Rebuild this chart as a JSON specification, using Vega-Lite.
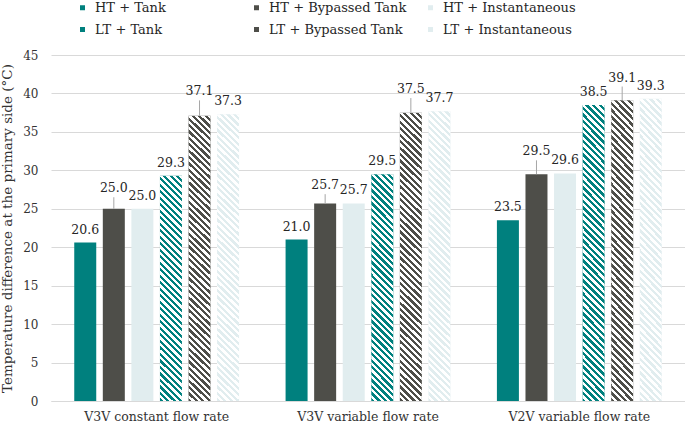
{
  "$schema": "https://vega.github.io/schema/vega-lite/v6.json",
  "width": 634,
  "height": 346,
  "autosize": {"type": "none"},
  "padding": {"left": 51, "top": 55, "right": 0, "bottom": 25},
  "background": "#ffffff",
  "config": {
    "font": "DejaVu Serif",
    "view": {"stroke": null},
    "axis": {"labelColor": "#333333", "titleColor": "#333333", "labelFont": "DejaVu Serif", "titleFont": "DejaVu Serif"}
  },
  "data": {
    "values": [
      {"group": "V3V constant flow rate", "series": "HT + Tank", "value": 20.6},
      {"group": "V3V constant flow rate", "series": "HT + Bypassed Tank", "value": 25.0, "hi": 26.5},
      {"group": "V3V constant flow rate", "series": "HT + Instantaneous", "value": 25.0},
      {"group": "V3V constant flow rate", "series": "LT + Tank", "value": 29.3},
      {"group": "V3V constant flow rate", "series": "LT + Bypassed Tank", "value": 37.1, "hi": 39.1},
      {"group": "V3V constant flow rate", "series": "LT + Instantaneous", "value": 37.3},
      {"group": "V3V variable flow rate", "series": "HT + Tank", "value": 21.0},
      {"group": "V3V variable flow rate", "series": "HT + Bypassed Tank", "value": 25.7, "hi": 26.9},
      {"group": "V3V variable flow rate", "series": "HT + Instantaneous", "value": 25.7},
      {"group": "V3V variable flow rate", "series": "LT + Tank", "value": 29.5},
      {"group": "V3V variable flow rate", "series": "LT + Bypassed Tank", "value": 37.5, "hi": 39.4},
      {"group": "V3V variable flow rate", "series": "LT + Instantaneous", "value": 37.7},
      {"group": "V2V variable flow rate", "series": "HT + Tank", "value": 23.5},
      {"group": "V2V variable flow rate", "series": "HT + Bypassed Tank", "value": 29.5, "hi": 31.3},
      {"group": "V2V variable flow rate", "series": "HT + Instantaneous", "value": 29.6},
      {"group": "V2V variable flow rate", "series": "LT + Tank", "value": 38.5},
      {"group": "V2V variable flow rate", "series": "LT + Bypassed Tank", "value": 39.1, "hi": 40.9},
      {"group": "V2V variable flow rate", "series": "LT + Instantaneous", "value": 39.3}
    ]
  },
  "encoding": {
    "x": {
      "field": "group", "type": "nominal",
      "scale": {"domain": ["V3V constant flow rate", "V3V variable flow rate", "V2V variable flow rate"], "paddingInner": 0.22, "paddingOuter": 0.11},
      "axis": {"title": null, "labelAngle": 0, "labelFontSize": 12.5, "labelPadding": 9, "ticks": false, "domain": true, "domainColor": "#d9d9d9", "grid": false}
    },
    "xOffset": {
      "field": "series", "type": "nominal",
      "scale": {"domain": ["HT + Tank", "HT + Bypassed Tank", "HT + Instantaneous", "LT + Tank", "LT + Bypassed Tank", "LT + Instantaneous"], "paddingInner": 0.23, "paddingOuter": 0}
    },
    "y": {
      "field": "value", "type": "quantitative",
      "scale": {"domain": [0, 45], "nice": false},
      "title": "Temperature difference at the primary side (°C)",
      "axis": {"tickCount": 9, "labelOverlap": false, "grid": true, "gridColor": "#d9d9d9", "domain": false, "ticks": false, "labelFontSize": 12, "labelPadding": 13, "titleFontSize": 13.5, "titleFontWeight": "normal", "titlePadding": 8}
    }
  },
  "layer": [
    {
      "mark": {"type": "bar"},
      "encoding": {
        "color": {
          "field": "series", "type": "nominal",
          "scale": {
            "domain": ["HT + Tank", "HT + Bypassed Tank", "HT + Instantaneous", "LT + Tank", "LT + Bypassed Tank", "LT + Instantaneous"],
            "range": ["#00807e", "#4e4e49", "#e1edef", "#00807e", "#4e4e49", "#e1edef"]
          },
          "legend": {
            "title": null, "orient": "none", "legendX": 25, "legendY": -54,
            "direction": "horizontal", "columns": 3, "gridAlign": "all",
            "columnPadding": 17, "rowPadding": 8, "padding": 0,
            "symbolType": "square", "symbolSize": 25, "symbolStrokeWidth": 0,
            "labelFontSize": 13, "labelOffset": 6, "labelColor": "#262626", "labelFont": "DejaVu Serif",
            "encode": {
              "symbols": {
                "update": {
                  "fill": [
                    {"test": "datum.value === 'LT + Tank'", "value": {"gradient": "linear", "x1": 0, "y1": 1, "x2": 1, "y2": 0, "stops": [{"offset": 0, "color": "#00807e"}, {"offset": 0.35, "color": "#00807e"}, {"offset": 0.35, "color": "#ffffff"}, {"offset": 0.65, "color": "#ffffff"}, {"offset": 0.65, "color": "#00807e"}, {"offset": 1, "color": "#00807e"}]}},
                    {"test": "datum.value === 'LT + Bypassed Tank'", "value": {"gradient": "linear", "x1": 0, "y1": 1, "x2": 1, "y2": 0, "stops": [{"offset": 0, "color": "#4e4e49"}, {"offset": 0.35, "color": "#4e4e49"}, {"offset": 0.35, "color": "#ffffff"}, {"offset": 0.65, "color": "#ffffff"}, {"offset": 0.65, "color": "#4e4e49"}, {"offset": 1, "color": "#4e4e49"}]}},
                    {"test": "datum.value === 'LT + Instantaneous'", "value": {"gradient": "linear", "x1": 0, "y1": 1, "x2": 1, "y2": 0, "stops": [{"offset": 0, "color": "#e1edef"}, {"offset": 0.35, "color": "#e1edef"}, {"offset": 0.35, "color": "#ffffff"}, {"offset": 0.65, "color": "#ffffff"}, {"offset": 0.65, "color": "#e1edef"}, {"offset": 1, "color": "#e1edef"}]}},
                    {"scale": "color", "field": "value"}
                  ]
                }
              }
            }
          }
        }
      }
    },
    {
      "transform": [{"filter": "datum.series === 'LT + Tank' && datum.group !== 'V2V variable flow rate'"}],
      "mark": {"type": "bar", "fill": {"gradient": "linear", "x1": 0, "y1": 1, "x2": 0.1058, "y2": -0.087, "stops": [
        {"offset": 0, "color": "rgba(255,255,255,0)"}, {"offset": 0.01316, "color": "rgba(255,255,255,0)"}, {"offset": 0.01316, "color": "#fff"}, {"offset": 0.02632, "color": "#fff"},
        {"offset": 0.02632, "color": "rgba(255,255,255,0)"}, {"offset": 0.03947, "color": "rgba(255,255,255,0)"}, {"offset": 0.03947, "color": "#fff"}, {"offset": 0.05263, "color": "#fff"},
        {"offset": 0.05263, "color": "rgba(255,255,255,0)"}, {"offset": 0.06579, "color": "rgba(255,255,255,0)"}, {"offset": 0.06579, "color": "#fff"}, {"offset": 0.07895, "color": "#fff"},
        {"offset": 0.07895, "color": "rgba(255,255,255,0)"}, {"offset": 0.09211, "color": "rgba(255,255,255,0)"}, {"offset": 0.09211, "color": "#fff"}, {"offset": 0.10526, "color": "#fff"},
        {"offset": 0.10526, "color": "rgba(255,255,255,0)"}, {"offset": 0.11842, "color": "rgba(255,255,255,0)"}, {"offset": 0.11842, "color": "#fff"}, {"offset": 0.13158, "color": "#fff"},
        {"offset": 0.13158, "color": "rgba(255,255,255,0)"}, {"offset": 0.14474, "color": "rgba(255,255,255,0)"}, {"offset": 0.14474, "color": "#fff"}, {"offset": 0.15789, "color": "#fff"},
        {"offset": 0.15789, "color": "rgba(255,255,255,0)"}, {"offset": 0.17105, "color": "rgba(255,255,255,0)"}, {"offset": 0.17105, "color": "#fff"}, {"offset": 0.18421, "color": "#fff"},
        {"offset": 0.18421, "color": "rgba(255,255,255,0)"}, {"offset": 0.19737, "color": "rgba(255,255,255,0)"}, {"offset": 0.19737, "color": "#fff"}, {"offset": 0.21053, "color": "#fff"},
        {"offset": 0.21053, "color": "rgba(255,255,255,0)"}, {"offset": 0.22368, "color": "rgba(255,255,255,0)"}, {"offset": 0.22368, "color": "#fff"}, {"offset": 0.23684, "color": "#fff"},
        {"offset": 0.23684, "color": "rgba(255,255,255,0)"}, {"offset": 0.25, "color": "rgba(255,255,255,0)"}, {"offset": 0.25, "color": "#fff"}, {"offset": 0.26316, "color": "#fff"},
        {"offset": 0.26316, "color": "rgba(255,255,255,0)"}, {"offset": 0.27632, "color": "rgba(255,255,255,0)"}, {"offset": 0.27632, "color": "#fff"}, {"offset": 0.28947, "color": "#fff"},
        {"offset": 0.28947, "color": "rgba(255,255,255,0)"}, {"offset": 0.30263, "color": "rgba(255,255,255,0)"}, {"offset": 0.30263, "color": "#fff"}, {"offset": 0.31579, "color": "#fff"},
        {"offset": 0.31579, "color": "rgba(255,255,255,0)"}, {"offset": 0.32895, "color": "rgba(255,255,255,0)"}, {"offset": 0.32895, "color": "#fff"}, {"offset": 0.34211, "color": "#fff"},
        {"offset": 0.34211, "color": "rgba(255,255,255,0)"}, {"offset": 0.35526, "color": "rgba(255,255,255,0)"}, {"offset": 0.35526, "color": "#fff"}, {"offset": 0.36842, "color": "#fff"},
        {"offset": 0.36842, "color": "rgba(255,255,255,0)"}, {"offset": 0.38158, "color": "rgba(255,255,255,0)"}, {"offset": 0.38158, "color": "#fff"}, {"offset": 0.39474, "color": "#fff"},
        {"offset": 0.39474, "color": "rgba(255,255,255,0)"}, {"offset": 0.40789, "color": "rgba(255,255,255,0)"}, {"offset": 0.40789, "color": "#fff"}, {"offset": 0.42105, "color": "#fff"},
        {"offset": 0.42105, "color": "rgba(255,255,255,0)"}, {"offset": 0.43421, "color": "rgba(255,255,255,0)"}, {"offset": 0.43421, "color": "#fff"}, {"offset": 0.44737, "color": "#fff"},
        {"offset": 0.44737, "color": "rgba(255,255,255,0)"}, {"offset": 0.46053, "color": "rgba(255,255,255,0)"}, {"offset": 0.46053, "color": "#fff"}, {"offset": 0.47368, "color": "#fff"},
        {"offset": 0.47368, "color": "rgba(255,255,255,0)"}, {"offset": 0.48684, "color": "rgba(255,255,255,0)"}, {"offset": 0.48684, "color": "#fff"}, {"offset": 0.5, "color": "#fff"},
        {"offset": 0.5, "color": "rgba(255,255,255,0)"}, {"offset": 0.51316, "color": "rgba(255,255,255,0)"}, {"offset": 0.51316, "color": "#fff"}, {"offset": 0.52632, "color": "#fff"},
        {"offset": 0.52632, "color": "rgba(255,255,255,0)"}, {"offset": 0.53947, "color": "rgba(255,255,255,0)"}, {"offset": 0.53947, "color": "#fff"}, {"offset": 0.55263, "color": "#fff"},
        {"offset": 0.55263, "color": "rgba(255,255,255,0)"}, {"offset": 0.56579, "color": "rgba(255,255,255,0)"}, {"offset": 0.56579, "color": "#fff"}, {"offset": 0.57895, "color": "#fff"},
        {"offset": 0.57895, "color": "rgba(255,255,255,0)"}, {"offset": 0.59211, "color": "rgba(255,255,255,0)"}, {"offset": 0.59211, "color": "#fff"}, {"offset": 0.60526, "color": "#fff"},
        {"offset": 0.60526, "color": "rgba(255,255,255,0)"}, {"offset": 0.61842, "color": "rgba(255,255,255,0)"}, {"offset": 0.61842, "color": "#fff"}, {"offset": 0.63158, "color": "#fff"},
        {"offset": 0.63158, "color": "rgba(255,255,255,0)"}, {"offset": 0.64474, "color": "rgba(255,255,255,0)"}, {"offset": 0.64474, "color": "#fff"}, {"offset": 0.65789, "color": "#fff"},
        {"offset": 0.65789, "color": "rgba(255,255,255,0)"}, {"offset": 0.67105, "color": "rgba(255,255,255,0)"}, {"offset": 0.67105, "color": "#fff"}, {"offset": 0.68421, "color": "#fff"},
        {"offset": 0.68421, "color": "rgba(255,255,255,0)"}, {"offset": 0.69737, "color": "rgba(255,255,255,0)"}, {"offset": 0.69737, "color": "#fff"}, {"offset": 0.71053, "color": "#fff"},
        {"offset": 0.71053, "color": "rgba(255,255,255,0)"}, {"offset": 0.72368, "color": "rgba(255,255,255,0)"}, {"offset": 0.72368, "color": "#fff"}, {"offset": 0.73684, "color": "#fff"},
        {"offset": 0.73684, "color": "rgba(255,255,255,0)"}, {"offset": 0.75, "color": "rgba(255,255,255,0)"}, {"offset": 0.75, "color": "#fff"}, {"offset": 0.76316, "color": "#fff"},
        {"offset": 0.76316, "color": "rgba(255,255,255,0)"}, {"offset": 0.77632, "color": "rgba(255,255,255,0)"}, {"offset": 0.77632, "color": "#fff"}, {"offset": 0.78947, "color": "#fff"},
        {"offset": 0.78947, "color": "rgba(255,255,255,0)"}, {"offset": 0.80263, "color": "rgba(255,255,255,0)"}, {"offset": 0.80263, "color": "#fff"}, {"offset": 0.81579, "color": "#fff"},
        {"offset": 0.81579, "color": "rgba(255,255,255,0)"}, {"offset": 0.82895, "color": "rgba(255,255,255,0)"}, {"offset": 0.82895, "color": "#fff"}, {"offset": 0.84211, "color": "#fff"},
        {"offset": 0.84211, "color": "rgba(255,255,255,0)"}, {"offset": 0.85526, "color": "rgba(255,255,255,0)"}, {"offset": 0.85526, "color": "#fff"}, {"offset": 0.86842, "color": "#fff"},
        {"offset": 0.86842, "color": "rgba(255,255,255,0)"}, {"offset": 0.88158, "color": "rgba(255,255,255,0)"}, {"offset": 0.88158, "color": "#fff"}, {"offset": 0.89474, "color": "#fff"},
        {"offset": 0.89474, "color": "rgba(255,255,255,0)"}, {"offset": 0.90789, "color": "rgba(255,255,255,0)"}, {"offset": 0.90789, "color": "#fff"}, {"offset": 0.92105, "color": "#fff"},
        {"offset": 0.92105, "color": "rgba(255,255,255,0)"}, {"offset": 0.93421, "color": "rgba(255,255,255,0)"}, {"offset": 0.93421, "color": "#fff"}, {"offset": 0.94737, "color": "#fff"},
        {"offset": 0.94737, "color": "rgba(255,255,255,0)"}, {"offset": 0.96053, "color": "rgba(255,255,255,0)"}, {"offset": 0.96053, "color": "#fff"}, {"offset": 0.97368, "color": "#fff"},
        {"offset": 0.97368, "color": "rgba(255,255,255,0)"}, {"offset": 0.98684, "color": "rgba(255,255,255,0)"}, {"offset": 0.98684, "color": "#fff"}, {"offset": 1, "color": "#fff"}
      ]}}
    },
    {
      "transform": [{"filter": "indexof(datum.series, 'LT') === 0 && !(datum.series === 'LT + Tank' && datum.group !== 'V2V variable flow rate')"}],
      "mark": {"type": "bar", "fill": {"gradient": "linear", "x1": 0, "y1": 1, "x2": 0.08036, "y2": -0.0691, "stops": [
        {"offset": 0, "color": "rgba(255,255,255,0)"}, {"offset": 0.01042, "color": "rgba(255,255,255,0)"}, {"offset": 0.01042, "color": "#fff"}, {"offset": 0.02083, "color": "#fff"},
        {"offset": 0.02083, "color": "rgba(255,255,255,0)"}, {"offset": 0.03125, "color": "rgba(255,255,255,0)"}, {"offset": 0.03125, "color": "#fff"}, {"offset": 0.04167, "color": "#fff"},
        {"offset": 0.04167, "color": "rgba(255,255,255,0)"}, {"offset": 0.05208, "color": "rgba(255,255,255,0)"}, {"offset": 0.05208, "color": "#fff"}, {"offset": 0.0625, "color": "#fff"},
        {"offset": 0.0625, "color": "rgba(255,255,255,0)"}, {"offset": 0.07292, "color": "rgba(255,255,255,0)"}, {"offset": 0.07292, "color": "#fff"}, {"offset": 0.08333, "color": "#fff"},
        {"offset": 0.08333, "color": "rgba(255,255,255,0)"}, {"offset": 0.09375, "color": "rgba(255,255,255,0)"}, {"offset": 0.09375, "color": "#fff"}, {"offset": 0.10417, "color": "#fff"},
        {"offset": 0.10417, "color": "rgba(255,255,255,0)"}, {"offset": 0.11458, "color": "rgba(255,255,255,0)"}, {"offset": 0.11458, "color": "#fff"}, {"offset": 0.125, "color": "#fff"},
        {"offset": 0.125, "color": "rgba(255,255,255,0)"}, {"offset": 0.13542, "color": "rgba(255,255,255,0)"}, {"offset": 0.13542, "color": "#fff"}, {"offset": 0.14583, "color": "#fff"},
        {"offset": 0.14583, "color": "rgba(255,255,255,0)"}, {"offset": 0.15625, "color": "rgba(255,255,255,0)"}, {"offset": 0.15625, "color": "#fff"}, {"offset": 0.16667, "color": "#fff"},
        {"offset": 0.16667, "color": "rgba(255,255,255,0)"}, {"offset": 0.17708, "color": "rgba(255,255,255,0)"}, {"offset": 0.17708, "color": "#fff"}, {"offset": 0.1875, "color": "#fff"},
        {"offset": 0.1875, "color": "rgba(255,255,255,0)"}, {"offset": 0.19792, "color": "rgba(255,255,255,0)"}, {"offset": 0.19792, "color": "#fff"}, {"offset": 0.20833, "color": "#fff"},
        {"offset": 0.20833, "color": "rgba(255,255,255,0)"}, {"offset": 0.21875, "color": "rgba(255,255,255,0)"}, {"offset": 0.21875, "color": "#fff"}, {"offset": 0.22917, "color": "#fff"},
        {"offset": 0.22917, "color": "rgba(255,255,255,0)"}, {"offset": 0.23958, "color": "rgba(255,255,255,0)"}, {"offset": 0.23958, "color": "#fff"}, {"offset": 0.25, "color": "#fff"},
        {"offset": 0.25, "color": "rgba(255,255,255,0)"}, {"offset": 0.26042, "color": "rgba(255,255,255,0)"}, {"offset": 0.26042, "color": "#fff"}, {"offset": 0.27083, "color": "#fff"},
        {"offset": 0.27083, "color": "rgba(255,255,255,0)"}, {"offset": 0.28125, "color": "rgba(255,255,255,0)"}, {"offset": 0.28125, "color": "#fff"}, {"offset": 0.29167, "color": "#fff"},
        {"offset": 0.29167, "color": "rgba(255,255,255,0)"}, {"offset": 0.30208, "color": "rgba(255,255,255,0)"}, {"offset": 0.30208, "color": "#fff"}, {"offset": 0.3125, "color": "#fff"},
        {"offset": 0.3125, "color": "rgba(255,255,255,0)"}, {"offset": 0.32292, "color": "rgba(255,255,255,0)"}, {"offset": 0.32292, "color": "#fff"}, {"offset": 0.33333, "color": "#fff"},
        {"offset": 0.33333, "color": "rgba(255,255,255,0)"}, {"offset": 0.34375, "color": "rgba(255,255,255,0)"}, {"offset": 0.34375, "color": "#fff"}, {"offset": 0.35417, "color": "#fff"},
        {"offset": 0.35417, "color": "rgba(255,255,255,0)"}, {"offset": 0.36458, "color": "rgba(255,255,255,0)"}, {"offset": 0.36458, "color": "#fff"}, {"offset": 0.375, "color": "#fff"},
        {"offset": 0.375, "color": "rgba(255,255,255,0)"}, {"offset": 0.38542, "color": "rgba(255,255,255,0)"}, {"offset": 0.38542, "color": "#fff"}, {"offset": 0.39583, "color": "#fff"},
        {"offset": 0.39583, "color": "rgba(255,255,255,0)"}, {"offset": 0.40625, "color": "rgba(255,255,255,0)"}, {"offset": 0.40625, "color": "#fff"}, {"offset": 0.41667, "color": "#fff"},
        {"offset": 0.41667, "color": "rgba(255,255,255,0)"}, {"offset": 0.42708, "color": "rgba(255,255,255,0)"}, {"offset": 0.42708, "color": "#fff"}, {"offset": 0.4375, "color": "#fff"},
        {"offset": 0.4375, "color": "rgba(255,255,255,0)"}, {"offset": 0.44792, "color": "rgba(255,255,255,0)"}, {"offset": 0.44792, "color": "#fff"}, {"offset": 0.45833, "color": "#fff"},
        {"offset": 0.45833, "color": "rgba(255,255,255,0)"}, {"offset": 0.46875, "color": "rgba(255,255,255,0)"}, {"offset": 0.46875, "color": "#fff"}, {"offset": 0.47917, "color": "#fff"},
        {"offset": 0.47917, "color": "rgba(255,255,255,0)"}, {"offset": 0.48958, "color": "rgba(255,255,255,0)"}, {"offset": 0.48958, "color": "#fff"}, {"offset": 0.5, "color": "#fff"},
        {"offset": 0.5, "color": "rgba(255,255,255,0)"}, {"offset": 0.51042, "color": "rgba(255,255,255,0)"}, {"offset": 0.51042, "color": "#fff"}, {"offset": 0.52083, "color": "#fff"},
        {"offset": 0.52083, "color": "rgba(255,255,255,0)"}, {"offset": 0.53125, "color": "rgba(255,255,255,0)"}, {"offset": 0.53125, "color": "#fff"}, {"offset": 0.54167, "color": "#fff"},
        {"offset": 0.54167, "color": "rgba(255,255,255,0)"}, {"offset": 0.55208, "color": "rgba(255,255,255,0)"}, {"offset": 0.55208, "color": "#fff"}, {"offset": 0.5625, "color": "#fff"},
        {"offset": 0.5625, "color": "rgba(255,255,255,0)"}, {"offset": 0.57292, "color": "rgba(255,255,255,0)"}, {"offset": 0.57292, "color": "#fff"}, {"offset": 0.58333, "color": "#fff"},
        {"offset": 0.58333, "color": "rgba(255,255,255,0)"}, {"offset": 0.59375, "color": "rgba(255,255,255,0)"}, {"offset": 0.59375, "color": "#fff"}, {"offset": 0.60417, "color": "#fff"},
        {"offset": 0.60417, "color": "rgba(255,255,255,0)"}, {"offset": 0.61458, "color": "rgba(255,255,255,0)"}, {"offset": 0.61458, "color": "#fff"}, {"offset": 0.625, "color": "#fff"},
        {"offset": 0.625, "color": "rgba(255,255,255,0)"}, {"offset": 0.63542, "color": "rgba(255,255,255,0)"}, {"offset": 0.63542, "color": "#fff"}, {"offset": 0.64583, "color": "#fff"},
        {"offset": 0.64583, "color": "rgba(255,255,255,0)"}, {"offset": 0.65625, "color": "rgba(255,255,255,0)"}, {"offset": 0.65625, "color": "#fff"}, {"offset": 0.66667, "color": "#fff"},
        {"offset": 0.66667, "color": "rgba(255,255,255,0)"}, {"offset": 0.67708, "color": "rgba(255,255,255,0)"}, {"offset": 0.67708, "color": "#fff"}, {"offset": 0.6875, "color": "#fff"},
        {"offset": 0.6875, "color": "rgba(255,255,255,0)"}, {"offset": 0.69792, "color": "rgba(255,255,255,0)"}, {"offset": 0.69792, "color": "#fff"}, {"offset": 0.70833, "color": "#fff"},
        {"offset": 0.70833, "color": "rgba(255,255,255,0)"}, {"offset": 0.71875, "color": "rgba(255,255,255,0)"}, {"offset": 0.71875, "color": "#fff"}, {"offset": 0.72917, "color": "#fff"},
        {"offset": 0.72917, "color": "rgba(255,255,255,0)"}, {"offset": 0.73958, "color": "rgba(255,255,255,0)"}, {"offset": 0.73958, "color": "#fff"}, {"offset": 0.75, "color": "#fff"},
        {"offset": 0.75, "color": "rgba(255,255,255,0)"}, {"offset": 0.76042, "color": "rgba(255,255,255,0)"}, {"offset": 0.76042, "color": "#fff"}, {"offset": 0.77083, "color": "#fff"},
        {"offset": 0.77083, "color": "rgba(255,255,255,0)"}, {"offset": 0.78125, "color": "rgba(255,255,255,0)"}, {"offset": 0.78125, "color": "#fff"}, {"offset": 0.79167, "color": "#fff"},
        {"offset": 0.79167, "color": "rgba(255,255,255,0)"}, {"offset": 0.80208, "color": "rgba(255,255,255,0)"}, {"offset": 0.80208, "color": "#fff"}, {"offset": 0.8125, "color": "#fff"},
        {"offset": 0.8125, "color": "rgba(255,255,255,0)"}, {"offset": 0.82292, "color": "rgba(255,255,255,0)"}, {"offset": 0.82292, "color": "#fff"}, {"offset": 0.83333, "color": "#fff"},
        {"offset": 0.83333, "color": "rgba(255,255,255,0)"}, {"offset": 0.84375, "color": "rgba(255,255,255,0)"}, {"offset": 0.84375, "color": "#fff"}, {"offset": 0.85417, "color": "#fff"},
        {"offset": 0.85417, "color": "rgba(255,255,255,0)"}, {"offset": 0.86458, "color": "rgba(255,255,255,0)"}, {"offset": 0.86458, "color": "#fff"}, {"offset": 0.875, "color": "#fff"},
        {"offset": 0.875, "color": "rgba(255,255,255,0)"}, {"offset": 0.88542, "color": "rgba(255,255,255,0)"}, {"offset": 0.88542, "color": "#fff"}, {"offset": 0.89583, "color": "#fff"},
        {"offset": 0.89583, "color": "rgba(255,255,255,0)"}, {"offset": 0.90625, "color": "rgba(255,255,255,0)"}, {"offset": 0.90625, "color": "#fff"}, {"offset": 0.91667, "color": "#fff"},
        {"offset": 0.91667, "color": "rgba(255,255,255,0)"}, {"offset": 0.92708, "color": "rgba(255,255,255,0)"}, {"offset": 0.92708, "color": "#fff"}, {"offset": 0.9375, "color": "#fff"},
        {"offset": 0.9375, "color": "rgba(255,255,255,0)"}, {"offset": 0.94792, "color": "rgba(255,255,255,0)"}, {"offset": 0.94792, "color": "#fff"}, {"offset": 0.95833, "color": "#fff"},
        {"offset": 0.95833, "color": "rgba(255,255,255,0)"}, {"offset": 0.96875, "color": "rgba(255,255,255,0)"}, {"offset": 0.96875, "color": "#fff"}, {"offset": 0.97917, "color": "#fff"},
        {"offset": 0.97917, "color": "rgba(255,255,255,0)"}, {"offset": 0.98958, "color": "rgba(255,255,255,0)"}, {"offset": 0.98958, "color": "#fff"}, {"offset": 1, "color": "#fff"}
      ]}}
    },
    {
      "transform": [{"filter": "isValid(datum.hi)"}],
      "mark": {"type": "rule", "color": "#a6a6a6", "strokeWidth": 1},
      "encoding": {
        "y2": {"field": "hi"}
      }
    },
    {
      "transform": [{"filter": "!isValid(datum.hi)"}],
      "mark": {"type": "text", "baseline": "alphabetic", "dy": -9, "fontSize": 12.5, "color": "#262626", "font": "DejaVu Serif"},
      "encoding": {
        "text": {"field": "value", "type": "quantitative", "format": ".1f"}
      }
    },
    {
      "transform": [{"filter": "isValid(datum.hi)"}],
      "mark": {"type": "text", "baseline": "alphabetic", "dy": -5, "fontSize": 12.5, "color": "#262626", "font": "DejaVu Serif"},
      "encoding": {
        "y": {"field": "hi", "type": "quantitative", "title": "Temperature difference at the primary side (°C)"},
        "text": {"field": "value", "type": "quantitative", "format": ".1f"}
      }
    }
  ]
}
